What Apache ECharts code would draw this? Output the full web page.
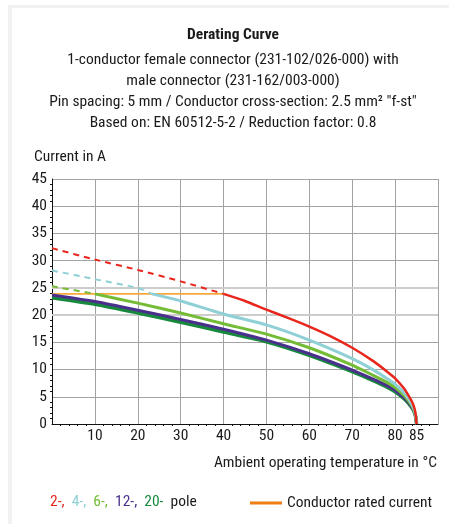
<!DOCTYPE html>
<html style="height: 100%">
<head>
    <meta charset="UTF-8">
    <title>Derating Curve</title>
    <script src="https://cdn.jsdelivr.net/npm/echarts/dist/echarts.min.js"></script>
</head>
<body style="height: 100%; margin: 0; background: #fff">
    <div id="main" style="width: 449px; height: 524px"></div>
    <script type="text/javascript">
        // values
        var FONT = "'Roboto Condensed', 'Liberation Sans Narrow', Roboto, sans-serif";
        var FS = 15.5;

        var xTickLabels = [10, 20, 30, 40, 50, 60, 70, 80, 85];
        var lightGridValues = [20, 25];

        // rated current of the conductor
        var ratedTemps = [0, 40];
        var ratedCurrent = [23.9, 23.9];

        // 2-pole
        var red2DashTemps = [0, 10, 20, 30, 40];
        var red2Dash = [32.3, 30.2, 28.3, 26.2, 23.9];
        var red2Temps = [40, 45, 50, 55, 60, 65, 70, 75, 78, 80, 82, 83, 84, 84.5, 84.8, 85];
        var red2 = [23.9, 22.6, 21.0, 19.5, 17.9, 16.1, 14.0, 11.5, 9.7, 8.4, 6.6, 5.4, 4.0, 2.9, 1.7, 0];

        // 4-pole
        var cyan4DashTemps = [0, 10, 20, 23.3];
        var cyan4Dash = [28.2, 26.6, 25.0, 23.9];
        var cyan4Temps = [23.3, 30, 40, 50, 60, 70, 75, 78, 80, 82, 83, 84, 84.5, 84.8, 85];
        var cyan4 = [23.9, 22.6, 20.2, 18.2, 15.4, 12.0, 9.9, 8.4, 7.3, 5.8, 4.8, 3.5, 2.5, 1.5, 0];

        // 6-pole
        var green6DashTemps = [0, 10];
        var green6Dash = [25.3, 23.9];
        var green6Temps = [10, 20, 30, 40, 50, 60, 70, 75, 78, 80, 82, 83, 84, 84.5, 84.8, 85];
        var green6 = [23.9, 22.2, 20.4, 18.4, 16.5, 14.0, 10.8, 8.9, 7.7, 6.7, 5.3, 4.4, 3.2, 2.3, 1.4, 0];

        // 12-pole
        var purple12Temps = [0, 10, 20, 30, 40, 50, 60, 70, 75, 78, 80, 82, 83, 84, 84.5, 84.8, 85];
        var purple12 = [23.7, 22.5, 20.9, 19.2, 17.4, 15.4, 12.9, 9.9, 8.2, 7.1, 6.2, 4.9, 4.1, 3.0, 2.2, 1.3, 0];

        // 20-pole
        var dkgreen20Temps = [0, 10, 20, 30, 40, 50, 60, 70, 75, 78, 80, 82, 83, 84, 84.5, 84.8, 85];
        var dkgreen20 = [23.2, 22.0, 20.4, 18.7, 16.9, 15.1, 12.6, 9.6, 7.9, 6.8, 5.9, 4.7, 3.9, 2.9, 2.1, 1.3, 0];

        function pairs(xs, ys) {
            return xs.map(function (x, i) { return [x, ys[i]]; });
        }

        function curve(name, xs, ys, color, width, dashed, z) {
            return {
                name: name,
                type: 'line',
                data: pairs(xs, ys),
                showSymbol: false,
                smooth: 0.2,
                z: z,
                lineStyle: { color: color, width: width, type: dashed ? [6, 5] : 'solid' },
                silent: true
            };
        }

        var myChart = echarts.init(document.getElementById('main'));

        var option = {
            backgroundColor: '#fff',
            textStyle: { fontFamily: FONT },
            title: {
                text: 'Derating Curve',
                subtext: '1-conductor female connector (231-102/026-000) with\nmale connector (231-162/003-000)\nPin spacing: 5 mm / Conductor cross-section: 2.5 mm\u00b2 "f-st"\nBased on: EN 60512-5-2 / Reduction factor: 0.8',
                left: 228,
                textAlign: 'center',
                top: 21,
                itemGap: 5,
                textStyle: { fontFamily: FONT, fontSize: FS, fontWeight: 'bold', color: '#1a1a1a', lineHeight: 19 },
                subtextStyle: { fontFamily: FONT, fontSize: FS, color: '#1a1a1a', lineHeight: 21 }
            },
            legend: {
                left: 245,
                top: 490,
                itemWidth: 32,
                itemHeight: 3,
                itemGap: 6,
                textStyle: { fontFamily: FONT, fontSize: FS, color: '#1a1a1a' },
                data: [{ name: 'Conductor rated current', icon: 'rect', itemStyle: { color: '#ee7d14' } }]
            },
            grid: { left: 52, right: 11, top: 179, bottom: 100 },
            xAxis: [{
                type: 'value',
                min: 0,
                max: 90,
                interval: 10,
                axisLine: { onZero: false, lineStyle: { color: '#111', width: 1 } },
                axisTick: { show: false },
                minorTick: { show: true, splitNumber: 5, length: 2, lineStyle: { color: '#111' } },
                splitLine: { lineStyle: { color: '#a3a3a3', width: 1 } },
                axisLabel: {
                    margin: 4,
                    fontSize: FS,
                    color: '#1a1a1a',
                    fontFamily: FONT,
                    formatter: function (v) { return xTickLabels.indexOf(v) >= 0 ? String(v) : ''; }
                }
            }, {
                type: 'value',
                position: 'bottom',
                min: 0,
                max: 90,
                interval: 5,
                axisLine: { show: false },
                axisTick: { show: false },
                splitLine: { show: false },
                axisLabel: {
                    margin: 4,
                    fontSize: FS,
                    color: '#1a1a1a',
                    fontFamily: FONT,
                    formatter: function (v) { return v === 85 ? '85' : ''; }
                }
            }],
            yAxis: {
                type: 'value',
                min: 0,
                max: 45,
                interval: 5,
                axisLine: { show: true, lineStyle: { color: '#111', width: 1 } },
                axisTick: { show: false },
                minorTick: { show: true, splitNumber: 5, length: 2, lineStyle: { color: '#111' } },
                splitLine: { lineStyle: { color: '#a3a3a3', width: 1 } },
                axisLabel: { margin: 5, fontSize: FS, color: '#1a1a1a', fontFamily: FONT }
            },
            graphic: [
                { type: 'rect', shape: { x: 8, y: 5, width: 441, height: 3 }, style: { fill: '#f1f1f1' }, silent: true },
                { type: 'rect', shape: { x: 8, y: 5, width: 4, height: 519 }, style: { fill: '#f1f1f1' }, silent: true },
                {
                    type: 'text', left: 34, top: 149,
                    style: { text: 'Current in A', font: FS + 'px ' + FONT, fill: '#1a1a1a' }
                },
                {
                    type: 'text', right: 12, top: 455,
                    style: { text: 'Ambient operating temperature in \u00b0C', font: FS + 'px ' + FONT, fill: '#1a1a1a' }
                },
                {
                    type: 'text', left: 50, top: 494,
                    style: {
                        text: '{r|2-,}  {c|4-,}  {g|6-,}  {p|12-,}  {d|20-}  {k|pole}',
                        font: FS + 'px ' + FONT,
                        rich: {
                            r: { fill: '#e8261c', fontSize: FS, fontFamily: FONT },
                            c: { fill: '#8fd0d6', fontSize: FS, fontFamily: FONT },
                            g: { fill: '#74bb36', fontSize: FS, fontFamily: FONT },
                            p: { fill: '#4b2f8c', fontSize: FS, fontFamily: FONT },
                            d: { fill: '#17893d', fontSize: FS, fontFamily: FONT },
                            k: { fill: '#1a1a1a', fontSize: FS, fontFamily: FONT }
                        }
                    }
                }
            ],
            series: [
                {
                    name: 'grid',
                    type: 'line',
                    data: [],
                    z: 1,
                    silent: true,
                    markLine: {
                        silent: true,
                        symbol: 'none',
                        z: 1,
                        label: { show: false },
                        lineStyle: { color: '#cdcdcd', width: 2, type: 'solid' },
                        data: lightGridValues.map(function (v) { return { yAxis: v }; })
                    }
                },
                {
                    name: 'Conductor rated current',
                    type: 'line',
                    data: pairs(ratedTemps, ratedCurrent),
                    showSymbol: false,
                    z: 3,
                    silent: true,
                    lineStyle: { color: '#f7a93a', width: 1.6 },
                    itemStyle: { color: '#ee7d14' }
                },
                curve('2-pole dashed', red2DashTemps, red2Dash, '#e8261c', 2, true, 4),
                curve('4-pole dashed', cyan4DashTemps, cyan4Dash, '#8fd0d6', 2, true, 4),
                curve('6-pole dashed', green6DashTemps, green6Dash, '#74bb36', 2, true, 4),
                curve('20-pole', dkgreen20Temps, dkgreen20, '#17893d', 3.5, false, 5),
                curve('12-pole', purple12Temps, purple12, '#4b2f8c', 3, false, 6),
                curve('6-pole', green6Temps, green6, '#74bb36', 3, false, 7),
                curve('4-pole', cyan4Temps, cyan4, '#8fd0d6', 3, false, 8),
                curve('2-pole', red2Temps, red2, '#e8261c', 2.5, false, 9)
            ]
        };

        myChart.setOption(option);
    </script>
</body>
</html>
